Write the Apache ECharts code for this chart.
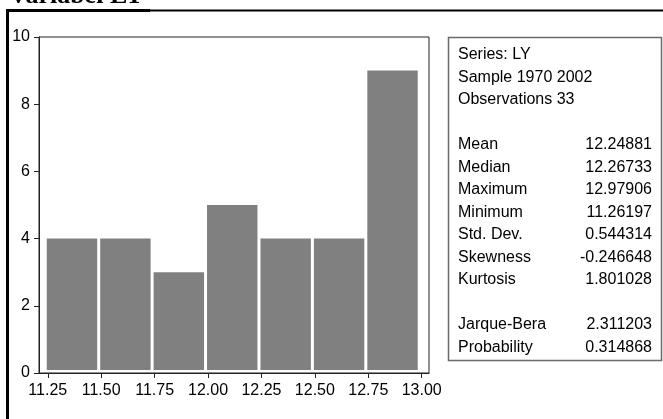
<!DOCTYPE html>
<html>
<head>
<meta charset="utf-8">
<script src="https://cdn.jsdelivr.net/npm/echarts@6/dist/echarts.min.js"></script>
<style>
html,body{margin:0;padding:0;background:#fff;}
#chart{width:663px;height:419px;}
</style>
</head>
<body>
<div id="chart"></div>
<script>
// ---- data ----
var titleText = 'Variabel LY';
var binStarts = [11.25, 11.50, 11.75, 12.00, 12.25, 12.50, 12.75];
var binEnds   = [11.50, 11.75, 12.00, 12.25, 12.50, 12.75, 13.00];
var counts    = [4, 4, 3, 5, 4, 4, 9];
var xTicks    = [11.25, 11.50, 11.75, 12.00, 12.25, 12.50, 12.75, 13.00];
var headerLines = ['Series: LY', 'Sample 1970 2002', 'Observations 33'];
var statNames  = ['Mean', 'Median', 'Maximum', 'Minimum', 'Std. Dev.', 'Skewness', 'Kurtosis'];
var statValues = ['12.24881', '12.26733', '12.97906', '11.26197', '0.544314', '-0.246648', '1.801028'];
var testNames  = ['Jarque-Bera', 'Probability'];
var testValues = ['2.311203', '0.314868'];

var FONT = 'Liberation Sans, Arial, Helvetica, sans-serif';
var chart = echarts.init(document.getElementById('chart'), null, {renderer: 'canvas'});

var barData = binStarts.map(function (s, i) { return [s, binEnds[i], counts[i]]; });

// stats box graphic
var boxX = 448, boxY = 37, boxW = 213, boxH = 323;
var textLeft = 458, textRight = 652;
var g = [];
g.push({type: 'rect', shape: {x: boxX + 0.5, y: boxY + 0.5, width: boxW, height: boxH},
  style: {fill: '#fff', stroke: '#6a6a6a', lineWidth: 1.5}});
function addRow(y, name, val) {
  g.push({type: 'text', x: textLeft, y: y, style: {text: name, font: '16px ' + FONT, fill: '#000', verticalAlign: 'middle', align: 'left'}});
  if (val !== undefined) {
    g.push({type: 'text', x: textRight, y: y, style: {text: val, font: '16px ' + FONT, fill: '#000', verticalAlign: 'middle', align: 'right'}});
  }
}
var step = 22.5;
headerLines.forEach(function (t, i) { addRow(55 + i * step, t); });
statNames.forEach(function (t, i) { addRow(145 + i * step, t, statValues[i]); });
testNames.forEach(function (t, i) { addRow(325 + i * step, t, testValues[i]); });

// outer frame and title
g.push({type: 'line', shape: {x1: 6, y1: 10.5, x2: 663, y2: 10.5}, style: {stroke: '#000', lineWidth: 2}});
g.push({type: 'line', shape: {x1: 6, y1: 10.5, x2: 150, y2: 10.5}, style: {stroke: '#000', lineWidth: 3}});
g.push({type: 'line', shape: {x1: 7.5, y1: 9, x2: 7.5, y2: 419}, style: {stroke: '#000', lineWidth: 3}});
g.push({type: 'text', x: 9, y: -3.5, style: {text: titleText, font: 'bold 26px Liberation Serif, Times New Roman, serif', fill: '#000', verticalAlign: 'middle', align: 'left'}});

var option = {
  animation: false,
  backgroundColor: '#fff',
  grid: {left: 39, top: 37, right: 234, bottom: 46, show: true, borderColor: '#222', borderWidth: 1, backgroundColor: 'transparent'},
  xAxis: {
    type: 'value', min: 11.209, max: 13.034,
    axisLine: {show: true, lineStyle: {color: '#222', width: 1}},
    axisTick: {show: true, length: 5, inside: false, customValues: xTicks, lineStyle: {color: '#222'}},
    axisLabel: {show: true, customValues: xTicks, margin: 10, color: '#000', fontSize: 16, fontFamily: FONT,
      formatter: function (v) { return v.toFixed(2); }},
    splitLine: {show: false}
  },
  yAxis: {
    type: 'value', min: 0, max: 10, interval: 2,
    axisLine: {show: true, lineStyle: {color: '#222', width: 1}},
    axisTick: {show: true, length: 5, inside: false, lineStyle: {color: '#222'}},
    axisLabel: {show: true, margin: 9, color: '#000', fontSize: 16, fontFamily: FONT, padding: [0, 0, 4, 0]},
    splitLine: {show: false}
  },
  series: [{
    type: 'custom',
    data: barData,
    encode: {x: [0, 1], y: 2},
    renderItem: function (params, api) {
      var p0 = api.coord([api.value(0), api.value(2)]);
      var p1 = api.coord([api.value(1), 0]);
      var x0 = p0[0] - 1;
      var x1 = p1[0] - 4;
      var y0 = p0[1];
      var y1 = p1[1] - 3;
      return {type: 'rect', shape: {x: x0, y: y0, width: x1 - x0, height: y1 - y0},
        style: {fill: '#808080'}};
    }
  }],
  graphic: g
};
chart.setOption(option);
</script>
</body>
</html>
